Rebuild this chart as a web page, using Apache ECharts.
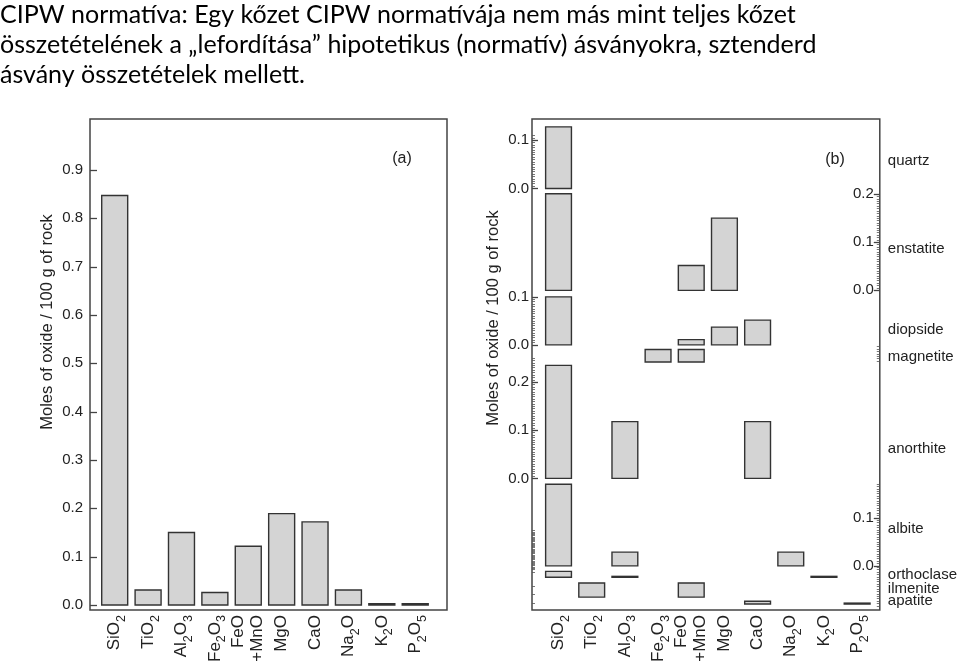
<!DOCTYPE html>
<html><head><meta charset="utf-8">
<script src="https://cdn.jsdelivr.net/npm/echarts@6/dist/echarts.min.js"></script>
<style>html,body{margin:0;padding:0;background:#fff}#c{width:960px;height:665px}</style>
</head><body><div id="c"></div>
<script>
// ---------- text ----------
const titleLines = [
  'CIPW normatíva: Egy kőzet CIPW normatívája nem más mint teljes kőzet',
  'összetételének a „lefordítása” hipotetikus (normatív) ásványokra, sztenderd',
  'ásvány összetételek mellett.'
];
const yTitle = 'Moles of oxide / 100 g of rock';

// ---------- categories ----------
const oxides = ['SiO2', 'TiO2', 'Al2O3', 'Fe2O3', 'FeO\n+MnO', 'MgO', 'CaO', 'Na2O', 'K2O', 'P2O5'];

// ---------- (a) whole rock ----------
const rockMoles = [0.847, 0.031, 0.150, 0.026, 0.1215, 0.189, 0.172, 0.031, 0.003, 0.003];
const rockTicks = [0, 0.1, 0.2, 0.3, 0.4, 0.5, 0.6, 0.7, 0.8, 0.9];

// ---------- (b) normative minerals ----------
const minerals = ['quartz', 'enstatite', 'diopside', 'magnetite', 'anorthite', 'albite', 'orthoclase', 'ilmenite', 'apatite'];
// local zero of each mineral's band on the (b) axis
const mineralZero = [0.8763, 0.6645, 0.5511, 0.5155, 0.2736, 0.0918, 0.0680, 0.0268, 0.0124];
// where each mineral name sits on the (b) axis
const mineralLabelAt = [0.934, 0.7505, 0.582, 0.527, 0.3346, 0.1685, 0.0736, 0.0439, 0.020];
// moles of each oxide going into each mineral (order = oxides)
const quartz     = [0.128, null, null, null, null, null, null, null, null, null];
const enstatite  = [0.2008, null, null, null, 0.0515, 0.150, null, null, null, null];
const diopside   = [0.0998, null, null, null, 0.011, 0.037, 0.0515, null, null, null];
const magnetite  = [null, null, null, 0.026, 0.026, null, null, null, null, null];
const anorthite  = [0.235, null, 0.118, null, null, null, 0.118, null, null, null];
const albite     = [0.1695, null, 0.0285, null, null, null, null, 0.0285, null, null];
const orthoclase = [0.0124, null, 0.002, null, null, null, null, null, 0.002, null];
const ilmenite   = [null, 0.0295, null, null, 0.0295, null, null, null, null, null];
const apatite    = [null, null, null, null, null, null, 0.006, null, null, 0.002];
const normMoles = [quartz, enstatite, diopside, magnetite, anorthite, albite, orthoclase, ilmenite, apatite];

// local tick labels of (b): [mineral index, local value]
const leftScaleTicks  = [[0, 0], [0, 0.1], [2, 0], [2, 0.1], [4, 0], [4, 0.1], [4, 0.2]];
const rightScaleTicks = [[1, 0], [1, 0.1], [1, 0.2], [5, 0], [5, 0.1]];
// minor tick ranges: [mineral index, from, to, step]
const leftMinorRanges  = [[0, 0, 0.11, 0.005], [2, 0, 0.1, 0.005], [4, 0, 0.25, 0.005], [5, -0.007, 0.075, 0.0025]];
const rightMinorRanges = [[1, 0, 0.2, 0.005], [3, 0.002, 0.033, 0.005], [5, 0, 0.17, 0.005], [5, -0.083, 0, 0.005]];
const leftExtraTicks = [0.079, 0.0495, 0.033, 0.0137];

// ---------- helpers ----------
const FONT = 'Liberation Sans, Arial, Helvetica, sans-serif';
const TXT = '#222';
const FILL = '#d4d4d4';
const EDGE = '#333';
const LINE = '#444';

const AX = { min: -0.7398, max: 9.952 };     // (a) x extent in category units
const BX = { min: -0.7996, max: 9.683 };     // (b) x extent in category units
const AY = { min: -0.0103, max: 1.0051 };
const BY = { min: 0, max: 1.0206 };

function richLabel(s) {
  return s.split('\n').map(line =>
    line.replace(/([^0-9]+)|([0-9]+)/g, (m, a, d) => a ? '{n|' + a + '}' : '{s|' + d + '}')
  ).join('\n');
}
const xRich = {
  n: { fontSize: 17, lineHeight: 19, color: TXT, fontFamily: FONT },
  s: { fontSize: 12.5, lineHeight: 12, color: TXT, fontFamily: FONT, verticalAlign: 'bottom', padding: [0, 0, -4, 0] }
};
const catIdx = oxides.map((_, i) => i);
const g = (m, v) => +(mineralZero[m] + v).toFixed(5);

function minorList(ranges) {
  const out = [];
  ranges.forEach(([m, a, b, st]) => {
    for (let v = a; v <= b + 1e-9; v += st) out.push(g(m, v));
  });
  return out;
}
const leftLabelMap = {}, rightLabelMap = {};
leftScaleTicks.forEach(([m, v]) => leftLabelMap[g(m, v).toFixed(5)] = v.toFixed(1));
rightScaleTicks.forEach(([m, v]) => rightLabelMap[g(m, v).toFixed(5)] = v.toFixed(1));
const leftMajor = leftScaleTicks.map(([m, v]) => g(m, v));
const rightMajor = rightScaleTicks.map(([m, v]) => g(m, v));
const nameMap = {};
mineralLabelAt.forEach((v, i) => nameMap[v.toFixed(5)] = minerals[i]);
const namesEven = mineralLabelAt.filter((_, i) => i % 2 === 0);
const namesOdd = mineralLabelAt.filter((_, i) => i % 2 === 1);

// data for (a)
const dataA = rockMoles.map((v, i) => [catIdx[i], v]);
// data for (b)
const dataB = [];
normMoles.forEach((arr, m) => arr.forEach((v, i) => { if (v != null) dataB.push([catIdx[i], mineralZero[m], v]); }));

const HALF = 0.389;
function barA(params, api) {
  const i = api.value(0), v = api.value(1);
  const p0 = api.coord([i - HALF, 0]);
  const p1 = api.coord([i + HALF, v]);
  return { type: 'rect', shape: { x: p0[0], y: p1[1], width: p1[0] - p0[0], height: p0[1] - p1[1] },
    style: { fill: FILL, stroke: EDGE, lineWidth: 1.4 } };
}
function barB(params, api) {
  const i = api.value(0), z = api.value(1), v = api.value(2);
  const p0 = api.coord([i - HALF, z]);
  const p1 = api.coord([i + HALF, z + v]);
  return { type: 'rect', shape: { x: p0[0], y: p1[1], width: p1[0] - p0[0], height: p0[1] - p1[1] },
    style: { fill: FILL, stroke: EDGE, lineWidth: 1.4 } };
}
// axis tick marks (major) drawn at the frame edge, positioned through the axis scale
function tickSeries(xi, yi, xEdge, values, dir, len) {
  return {
    type: 'custom', xAxisIndex: xi, yAxisIndex: yi, clip: false, silent: true, z: 5,
    data: values.map(v => [xEdge, v]), encode: { x: 0, y: 1 },
    renderItem: (params, api) => {
      const p = api.coord([api.value(0), api.value(1)]);
      const y = Math.round(p[1]) + 0.5;
      return { type: 'line', shape: { x1: p[0], y1: y, x2: p[0] + dir * len, y2: y }, style: { stroke: LINE, lineWidth: 1.3 } };
    }
  };
}

const xAxisCommon = {
  type: 'value', axisLine: { show: false, onZero: false }, axisTick: { show: false }, splitLine: { show: false },
  axisLabel: { customValues: catIdx.slice(), rotate: 90, margin: 5, hideOverlap: false, formatter: v => richLabel(oxides[Math.round(v)]), rich: xRich }
};
function tickAxis(grid, min, max, pos, values, len, width) {
  return { type: 'value', gridIndex: grid, min, max, position: pos, splitLine: { show: false },
    axisLine: { show: false, onZero: false }, axisLabel: { show: false },
    axisTick: { show: true, inside: true, length: len, customValues: values.slice(), lineStyle: { color: '#555', width } } };
}
function labelAxis(grid, min, max, pos, values, fmt, extra) {
  return { type: 'value', gridIndex: grid, min, max, position: pos, splitLine: { show: false },
    axisLine: { show: false, onZero: false }, axisTick: { show: false },
    axisLabel: Object.assign({ customValues: values.slice(), hideOverlap: false, formatter: fmt, fontSize: 15, fontFamily: FONT, color: TXT }, extra) };
}

const chart = echarts.init(document.getElementById('c'), null, { renderer: 'canvas' });
chart.setOption({
  animation: false,
  backgroundColor: '#fff',
  title: {
    text: titleLines.join('\n'), left: 0, top: 0, padding: 0,
    textStyle: { fontFamily: 'Lato, sans-serif', fontSize: 25, fontWeight: 'normal', color: '#000', lineHeight: 30 }
  },
  grid: [
    { left: 90, top: 119, width: 357, height: 493, show: true, borderColor: LINE, borderWidth: 1.5 },
    { left: 532, top: 119, width: 350, height: 495, show: true, borderColor: LINE, borderWidth: 1.5 }
  ],
  xAxis: [
    Object.assign({ gridIndex: 0 }, AX, xAxisCommon),
    Object.assign({ gridIndex: 1 }, BX, xAxisCommon, { axisLabel: Object.assign({}, xAxisCommon.axisLabel, { customValues: catIdx.slice() }) })
  ],
  yAxis: [
    // (a)
    labelAxis(0, AY.min, AY.max, 'left', rockTicks, v => (+v).toFixed(1), { margin: 7 }),
    // (b) left
    labelAxis(1, BY.min, BY.max, 'left', leftMajor, v => leftLabelMap[(+v).toFixed(5)] || '', { margin: 3 }),
    tickAxis(1, BY.min, BY.max, 'left', minorList(leftMinorRanges).concat(leftExtraTicks), 3, 0.8),
    // (b) right
    labelAxis(1, BY.min, BY.max, 'right', rightMajor, v => rightLabelMap[(+v).toFixed(5)] || '', { inside: true, margin: 6 }),
    tickAxis(1, BY.min, BY.max, 'right', minorList(rightMinorRanges), 3, 0.8),
    // (b) mineral names
    labelAxis(1, BY.min, BY.max, 'right', namesEven, v => nameMap[(+v).toFixed(5)] || '', { margin: 8 }),
    labelAxis(1, BY.min, BY.max, 'right', namesOdd, v => nameMap[(+v).toFixed(5)] || '', { margin: 8 })
  ],
  graphic: [
    { type: 'text', x: 47, y: 322, rotation: Math.PI / 2, style: { text: yTitle, font: '16.5px ' + FONT, fill: TXT, align: 'center', verticalAlign: 'middle' } },
    { type: 'text', x: 493, y: 318, rotation: Math.PI / 2, style: { text: yTitle, font: '16.5px ' + FONT, fill: TXT, align: 'center', verticalAlign: 'middle' } },
    { type: 'text', x: 402, y: 159, style: { text: '(a)', font: '16px ' + FONT, fill: TXT, align: 'center', verticalAlign: 'middle' } },
    { type: 'text', x: 835, y: 160, style: { text: '(b)', font: '16px ' + FONT, fill: TXT, align: 'center', verticalAlign: 'middle' } }
  ],
  series: [
    { type: 'custom', xAxisIndex: 0, yAxisIndex: 0, data: dataA, renderItem: barA, encode: { x: 0, y: 1 }, clip: false },
    { type: 'custom', xAxisIndex: 1, yAxisIndex: 1, data: dataB, renderItem: barB, encode: { x: 0, y: [1, 2] }, clip: false },
    tickSeries(0, 0, AX.min, rockTicks, 1, 7),
    tickSeries(1, 1, BX.min, leftMajor, 1, 6),
    tickSeries(1, 1, BX.max, rightMajor, -1, 6)
  ]
});
</script>
</body></html>
